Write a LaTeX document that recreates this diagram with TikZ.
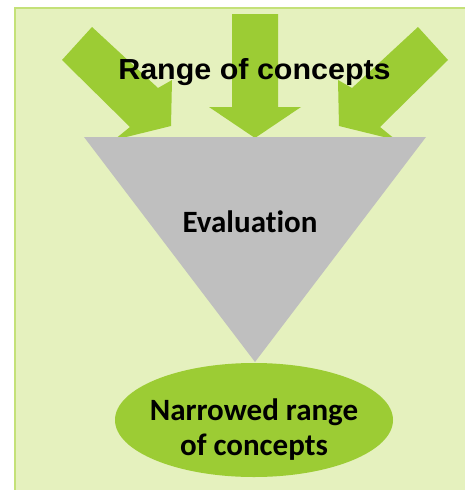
\documentclass[tikz,border=0pt]{standalone}
\usepackage{fontspec}
\usepackage{graphicx}
\setmainfont[Ligatures=NoCommon]{Carlito}
\newfontfamily\headfont{Liberation Sans}
\usetikzlibrary{shapes.geometric}
\definecolor{panelgreen}{RGB}{229,241,190}
\definecolor{paneledge}{RGB}{196,225,120}
\definecolor{arrowgreen}{RGB}{156,204,52}
\definecolor{funnelgray}{RGB}{191,191,191}
\tikzset{%
	inarrow/.style={
		fill=arrowgreen,
		draw=none
	},
	funnel/.style={
		fill=funnelgray,
		draw=none
	},
	goal/.style={
		ellipse,
		fill=arrowgreen,
		draw=none,
		minimum width=278pt,
		minimum height=114pt,
		inner sep=0pt
	},
	bigtitle/.style={
		font=\headfont\bfseries\fontsize{29}{33}\selectfont,
		inner sep=0pt
	},
	stagelabel/.style={
		font=\bfseries\fontsize{31}{35}\selectfont,
		align=center,
		inner sep=0pt
	},
}

\begin{document}
\begin{tikzpicture}[x=1pt, y=-1pt]
	\useasboundingbox (0,0) rectangle (465,490);

	% Draw the background panel
	\fill[panelgreen] (14,7) rectangle (465,490);
	\draw[paneledge, line width=1.5pt] (14.75,490) -- (14.75,7.75) -- (465,7.75);

	% Draw the left arrow
	\fill[inarrow] (92,27) -- (158,88) -- (172,80) -- (171,126) -- (114,140) -- (130,127) -- (62,60) -- cycle;

	% Draw the middle arrow
	\fill[inarrow] (232,14) -- (278,14) -- (278,107) -- (301,107) -- (255,138) -- (209,107) -- (232,107) -- cycle;

	% Draw the right arrow
	\fill[inarrow] (418,27) -- (352,88) -- (338,80) -- (339,126) -- (396,140) -- (380,127) -- (448,60) -- cycle;

	% Draw the funnel
	\coordinate (funnelleft) at (84,137);
	\coordinate (funnelright) at (426,137);
	\coordinate (funneltip) at (255,362);
	\fill[funnel] (funnelleft) -- (funnelright) -- (funneltip) -- cycle;

	% Draw the result ellipse
	\node[goal] (narrowed) at (254,420) {};

	% Labels
	\node[bigtitle, anchor=base] (range) at (254.5,79) {\scalebox{1.05}[1]{Range of concepts}};
	\node[stagelabel, anchor=base] (evaluation) at (250,232) {Evaluation};
	\node[stagelabel] (narrowedtext) at (254,430) {Narrowed range\\of concepts};
\end{tikzpicture}
\end{document}
